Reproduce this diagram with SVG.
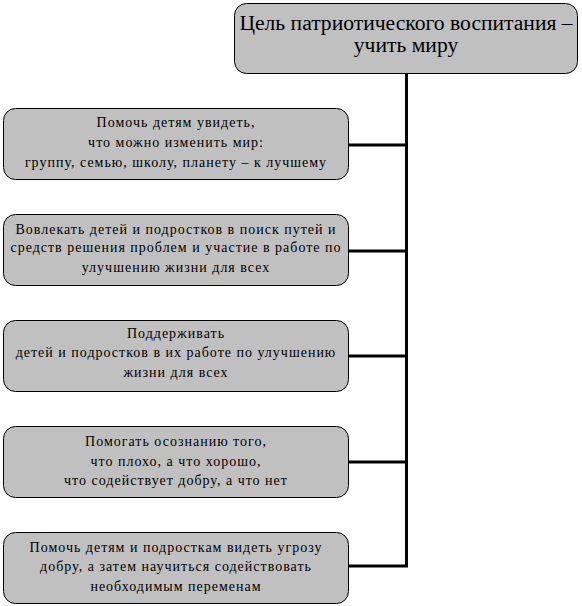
<svg xmlns="http://www.w3.org/2000/svg" width="582" height="606" viewBox="0 0 582 606">
<style>
.box{fill:#c0c0c0;stroke:#000;stroke-width:1}
.t{font-family:'Liberation Serif','DejaVu Serif',serif;font-size:14px;letter-spacing:1px;fill:#000;text-anchor:middle}
.tt{font-family:'Liberation Serif','DejaVu Serif',serif;font-size:21.6px;fill:#000;text-anchor:middle}
.c{stroke:#000;stroke-width:3;fill:none}
</style>
<rect width="582" height="606" fill="#fff"/>
<g id="connectors">
<line class="c" x1="406.5" y1="73" x2="406.5" y2="567"/>
<line class="c" x1="349" y1="145" x2="408" y2="145"/>
<line class="c" x1="349" y1="251" x2="408" y2="251"/>
<line class="c" x1="349" y1="356" x2="408" y2="356"/>
<line class="c" x1="349" y1="462" x2="408" y2="462"/>
<line class="c" x1="349" y1="566" x2="408" y2="566"/>
</g>
<g id="root">
<rect class="box" x="234.5" y="3.5" width="343" height="70" rx="12"/>
<text class="tt" x="406" y="30">Цель патриотического воспитания –</text>
<text class="tt" x="406" y="52">учить миру</text>
</g>
<g id="n1">
<rect class="box" x="3.5" y="108.5" width="345" height="71" rx="12"/>
<text class="t" x="176" y="127">Помочь детям увидеть,</text>
<text class="t" x="176" y="147">что можно изменить мир:</text>
<text class="t" x="176" y="167">группу, семью, школу, планету – к лучшему</text>
</g>
<g id="n2">
<rect class="box" x="3.5" y="214.5" width="345" height="71" rx="12"/>
<text class="t" x="176" y="234">Вовлекать детей и подростков в поиск путей и</text>
<text class="t" x="176" y="252">средств решения проблем и участие в работе по</text>
<text class="t" x="176" y="272">улучшению жизни для всех</text>
</g>
<g id="n3">
<rect class="box" x="3.5" y="320.5" width="345" height="71" rx="12"/>
<text class="t" x="176" y="338">Поддерживать</text>
<text class="t" x="176" y="357">детей и подростков в их работе по улучшению</text>
<text class="t" x="176" y="377">жизни для всех</text>
</g>
<g id="n4">
<rect class="box" x="3.5" y="426.5" width="345" height="71" rx="12"/>
<text class="t" x="176" y="446">Помогать осознанию того,</text>
<text class="t" x="176" y="466">что плохо, а что хорошо,</text>
<text class="t" x="176" y="485">что содействует добру, а что нет</text>
</g>
<g id="n5">
<rect class="box" x="3.5" y="532.5" width="345" height="71" rx="12"/>
<text class="t" x="176" y="552">Помочь детям и подросткам видеть угрозу</text>
<text class="t" x="176" y="571">добру, а затем научиться содействовать</text>
<text class="t" x="176" y="591">необходимым переменам</text>
</g>
</svg>
